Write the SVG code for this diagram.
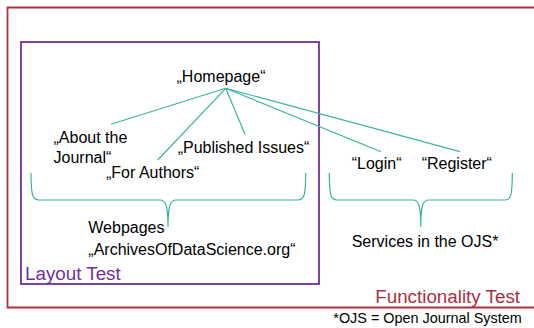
<svg xmlns="http://www.w3.org/2000/svg" width="534" height="328" viewBox="0 0 534 328">
<style>
text{font-family:"Liberation Sans",Arial,sans-serif;font-size:16px;fill:#000}
.con{stroke:#3cb4a0;stroke-width:1.2;fill:none}
.big{font-size:18.8px}
</style>
<rect width="534" height="328" fill="#fff"/>
<g id="functionality-test">
<path d="M540,7.5 H7.5 V307.5 H540" fill="none" stroke="#ad3040" stroke-width="1.8"/>
<text class="big" x="520" y="302.5" text-anchor="end" style="fill:#ad3040">Functionality Test</text>
</g>
<g id="layout-test">
<rect x="21" y="42" width="298" height="242" fill="none" stroke="#7030a0" stroke-width="1.8"/>
<text class="big" x="25" y="280" style="fill:#7030a0">Layout Test</text>
</g>
<g id="connectors">
<line class="con" x1="225.7" y1="88.3" x2="111" y2="124.3"/>
<line class="con" x1="225.7" y1="88.3" x2="157.7" y2="160"/>
<line class="con" x1="225.7" y1="88.3" x2="245" y2="134.3"/>
<line class="con" x1="225.7" y1="88.3" x2="381" y2="151.7"/>
<line class="con" x1="225.7" y1="88.3" x2="460" y2="151.7"/>
<path class="con" d="M31,173 C31,195 32.5,200 39,200 L160,200 C165.5,200 168,205 168,227 C168,205 170.5,200 176,200 L298,200 C304.2,200 305.7,195 305.7,173"/>
<path class="con" d="M329.3,173 C329.3,195 330.8,200 337,200 L413,200 C418.5,200 420.8,205 420.8,227 C420.8,205 423,200 428.5,200 L505,200 C510.8,200 512.3,195 512.3,173"/>
</g>
<g id="homepage"><text x="221" y="82" text-anchor="middle">„Homepage“</text></g>
<g id="about"><text x="53.5" y="143.3">„About the</text><text x="53.5" y="162.7">Journal“</text></g>
<g id="authors"><text x="106" y="178.3">„For Authors“</text></g>
<g id="issues"><text x="177.7" y="153.3">„Published Issues“</text></g>
<g id="login"><text x="351.7" y="169.3">“Login“</text></g>
<g id="register"><text x="421.7" y="169.3">“Register“</text></g>
<g id="webpages"><text x="88.3" y="232.7">Webpages</text><text x="88.3" y="255">„ArchivesOfDataScience.org“</text></g>
<g id="services"><text x="351.7" y="247.3">Services in the OJS*</text></g>
<g id="footnote"><text x="521.7" y="322.7" text-anchor="end" style="font-size:14.4px">*OJS = Open Journal System</text></g>
</svg>
